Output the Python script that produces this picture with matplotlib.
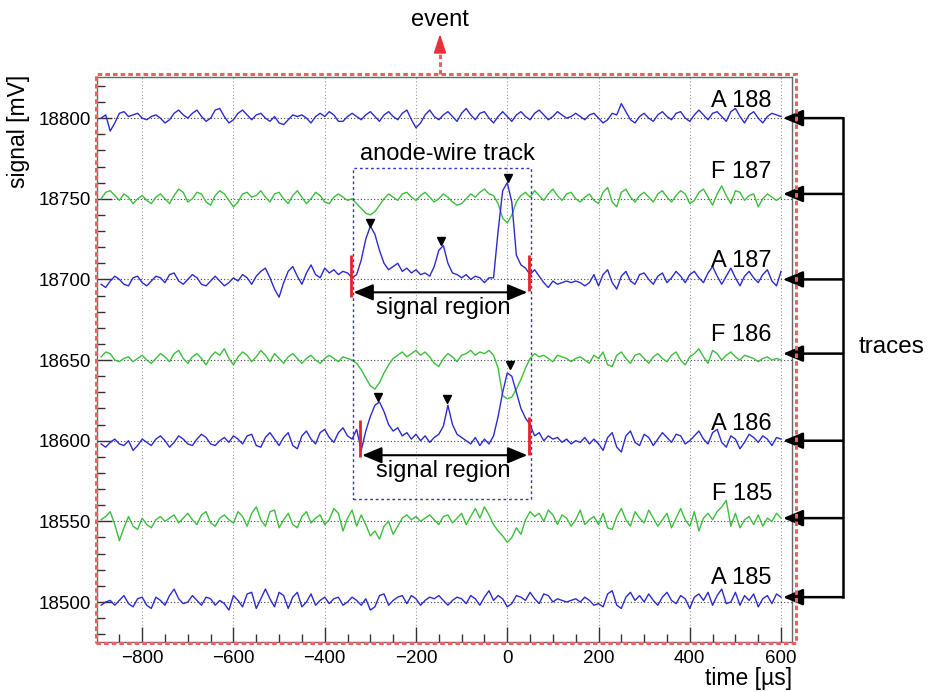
import numpy as np
import matplotlib
matplotlib.use("Agg")
import matplotlib.pyplot as plt
from matplotlib.patches import Rectangle, Polygon
from matplotlib.lines import Line2D

plt.rcParams['font.family'] = ['Liberation Sans', 'DejaVu Sans']

# ---------------- data ----------------
t0 = -890      # first sample time [us]
dt = 10        # sample spacing [us]

trace_names = ["A 188", "F 187", "A 187", "F 186", "A 186", "F 185", "A 185"]
baselines = [18800, 18750, 18700, 18650, 18600, 18550, 18500]
trace_kind = ["A", "F", "A", "F", "A", "F", "A"]

# deviations from baseline [mV]
a188 = [0, 2, -8, -3, 3, 4, 1, 2, 3, 0,
        -1, 1, 2, 0, -3, -1, 3, 5, 2, 0,
        3, 5, 1, -2, 0, 5, 6, 1, -3, -1,
        3, 5, 2, -1, 2, 3, 0, -2, 1, -3,
        -4, -1, 2, 1, 2, 0, -3, 1, 3, 1,
        4, 2, -2, -2, 1, 3, 1, -1, 2, 4,
        1, -2, 2, 4, 1, -1, 3, 5, -1, -6,
        -3, 2, 5, 1, -1, 2, 4, 1, -2, 3,
        6, 2, -1, 3, 4, 0, -3, 1, 4, 1,
        -2, 2, 4, 1, -1, 3, 5, 2, -1, 1,
        4, 2, 0, 1, 3, 1, -1, 2, 3, 0,
        -3, -1, 3, 2, 9, 4, -1, -3, 1, 3,
        0, -2, 2, 4, 1, -1, 3, 4, 0, -2,
        2, 5, 2, -1, 3, 4, 1, -2, 4, 6,
        1, -3, 2, 4, 0, -3, 1, 3, 2, 1]

f187 = [0, 4, 5, 2, -1, 3, 1, -3, 0, 2,
        -1, -3, 1, 3, 0, -3, 2, 6, 4, -2,
        0, 4, 3, -2, -4, 2, 5, 3, -1, -5,
        -2, 3, 4, 1, 2, 5, 1, -2, 3, 4,
        0, -3, 2, 5, 1, -3, 0, 4, 2, -2,
        -3, 1, 3, 1, -1, 0, -3, -6, -9, -10,
        -8, -4, 0, 3, 1, -1, 3, 4, 1, -1,
        2, 4, 1, -2, 0, 3, 1, -2, -4, -3,
        0, 3, 1, 4, 6, 3, 2, -3, -12, -15,
        -10, -2, 2, 4, 1, 5, 2, -1, 3, 6,
        2, -1, 3, 4, 0, -2, 1, 3, -1, -3,
        4, 7, -2, -5, 4, 6, 1, -2, 2, 4,
        1, -2, 3, 5, 1, -2, 2, 5, 3, -3,
        -1, 4, 6, 1, -4, 3, 8, 2, -3, 5,
        4, -1, 2, 3, -5, 0, 3, 1, -1, 1]

a187 = [-3, -5, -1, 2, 0, -3, -4, 1, 2, -2,
        -4, -1, 2, 1, -2, 3, 4, -1, -3, 0,
        3, 1, -3, -4, -1, 2, -1, -4, -2, 1,
        -1, 3, 1, -3, 2, 5, 7, 1, -6, -11,
        -2, 5, 8, 2, -3, 4, 9, 3, 1, 7,
        4, 6, 3, 5, 4, 1, 3, 12, 25, 33,
        28, 18, 10, 6, 8, 10, 5, 7, 4, 6,
        3, 4, 2, 8, 18, 21, 10, 4, 3, 1,
        3, 0, 2, 1, -2, 1, 1, 30, 55, 60,
        48, 15, 9, 7, 3, 6, 2, -2, -5, -1,
        -3, -2, -1, -2, -1, -2, -4, -2, 3, -4,
        3, 6, -2, -6, 2, 5, -1, -3, 3, 4,
        0, -3, 2, 4, -2, 1, 5, 2, -2, 3,
        5, 1, -2, 4, 8, 2, -3, 2, 7, 1,
        -4, 2, 5, 1, -2, 3, 6, -1, -4, 5]

f186 = [2, 5, 4, 0, -1, 1, 2, -1, 1, 3,
        0, -2, 1, 4, 2, -1, 4, 6, 1, -2,
        2, 4, 1, -3, 2, 5, 3, 7, 1, -3,
        2, 5, 3, -1, 2, 6, 3, -1, 4, 1,
        -2, 2, 4, 1, -2, 1, 3, 0, -2, 1,
        3, 1, -1, 2, 1, 0, -2, -6, -11, -16,
        -18, -14, -8, -3, 1, 3, 5, 2, 4, 6,
        3, 5, 2, -2, -4, 1, 4, 2, -1, 3,
        4, 6, 3, 5, 4, 6, 3, -5, -22, -24,
        -23, -18, -12, -5, 1, 4, 2, 3, 1, -1,
        3, 2, 1, -1, 1, 2, 0, -2, 3, 1,
        5, -3, -4, 3, 5, 1, -2, 3, 4, 1,
        -2, 2, 4, 1, -1, 3, 5, 0, -3, 2,
        4, 7, 2, -2, 6, 4, 0, 3, 5, 2,
        0, 3, 2, 1, -1, 1, 2, 0, 1, 0]

a186 = [-2, -4, -1, 1, -2, -3, 0, -6, -3, 1,
        -1, -3, 1, 3, 0, -4, -1, 3, 1, -2,
        -3, 1, 4, 2, -2, -3, 0, 2, -1, 3,
        1, -2, 3, 4, -3, -4, 2, 5, 1, -3,
        2, 5, -3, -5, 3, 6, 1, -2, 5, 7,
        2, -1, 5, 8, 3, 1, 7, -6, 6, 15,
        22, 24, 18, 10, 6, 8, 3, 5, 1, 4,
        0, 3, -1, 2, 4, 9, 22, 10, 4, 2,
        0, -2, 2, -3, 1, -2, 3, 15, 30, 42,
        40, 30, 20, 14, 10, 3, 5, 0, 3, 1,
        2, -1, 1, -2, 0, -1, 2, -2, 1, -2,
        -6, 2, 5, -4, -7, 3, 6, -1, -3, 4,
        2, -3, 1, 5, 2, -1, 4, 3, -2, 0,
        3, 6, 1, -2, 5, 7, -1, -4, 3, 1,
        -5, -1, 4, 2, -1, 3, 1, -3, 2, 1]

f185 = [1, 3, 6, -2, -12, -4, 3, -3, -5, 2,
        -2, -4, 1, 3, 0, 2, 4, -1, 2, 5,
        1, -2, 4, 6, -1, -3, 2, 4, 1, -1,
        6, 3, -3, 5, 9, 1, -3, 6, 7, -4,
        1, 5, -2, -4, 3, 6, -1, 2, 4, -2,
        1, 8, 5, -6, 2, 7, -3, 4, -2, -9,
        -6, -11, -3, 0, -8, -3, 2, 4, 1, 3,
        0, 2, 4, 1, -2, 3, 4, -1, 2, 5,
        -2, 3, 8, 2, 9, 4, -2, -6, -9, -13,
        -10, -4, -8, 1, 6, 3, 5, 0, 7, 4,
        -2, 4, 2, -3, 1, 7, -2, 1, 3, -2,
        5, -4, -5, 3, 8, 1, -3, 6, 2, -1,
        7, 2, -3, 1, 5, -4, 2, 8, 1, -3,
        6, -6, 2, 5, 1, 6, 9, 13, -3, 5,
        -4, 1, 3, -2, 4, -3, 2, 0, 5, 2]

a185 = [-2, 0, 1, -2, 1, 4, -1, -3, 2, 3,
        -2, -4, 3, 1, -2, 4, 8, 2, -1, 0,
        4, 1, -2, 3, 2, -2, 1, -1, -5, 4,
        1, -3, 5, 6, -4, 2, 8, 2, -3, 6,
        4, -4, 3, 6, -3, 0, 5, -2, 1, 3,
        -1, 2, 3, -2, 0, 3, 1, -2, 2, -5,
        -3, 4, 5, -2, 1, 3, 4, -1, 4, 2,
        -2, 1, 3, 2, 4, 1, -2, 1, 3, 2,
        -1, 4, 2, -2, 3, 7, 1, 4, 2, -3,
        -1, 4, 3, 1, 6, 2, -1, 5, 4, 0,
        2, 1, 0, 1, 2, 0, 3, 1, -2, -1,
        -3, 5, 7, -2, -4, 3, 6, 1, 4, 0,
        5, 1, -2, 3, 6, 1, -1, 4, 2, -4,
        3, 5, 1, 6, -2, 4, 8, -1, 0, 6,
        -2, 4, 1, 5, -3, 2, 4, -1, 5, 3]

deviations = [a188, f187, a187, f186, a186, f185, a185]

# peak markers (time, signal)
peak_t = [-300, -145, 2, -283, -132, 6]
peak_v = [18735, 18724, 18763, 18627, 18626, 18647]

# ---------------- figure ----------------
W, H = 930, 692
fig = plt.figure(figsize=(W / 100, H / 100), dpi=100)

def fx(px):
    return px / W

def fy(py):
    return 1 - py / H

ax = fig.add_axes([fx(97), fy(642), (792 - 97) / W, (642 - 77) / H])
ax.set_xlim(-899, 624)
ax.set_ylim(18475.2, 18825.5)

colors = {"A": "#2b2bd0", "F": "#3cbf3c"}
for name, base, kind, dev in zip(trace_names, baselines, trace_kind, deviations):
    dev = np.asarray(dev, dtype=float)
    t = t0 + dt * np.arange(len(dev))
    ax.plot(t, base + dev, color=colors[kind], lw=1.0, zorder=3)

ax.plot(peak_t, peak_v, linestyle='none', marker='v', color='black',
        markersize=6, zorder=5)

# ticks
ax.set_xticks([-800, -600, -400, -200, 0, 200, 400, 600])
ax.set_xticks(np.arange(-850, 624, 50), minor=True)
ax.set_yticks(baselines[::-1])
ax.set_yticks(np.arange(18480, 18825, 10), minor=True)
ax.tick_params(which='both', direction='in', top=False, right=False,
               labelsize=13.5, width=1, color='#333')
ax.tick_params(which='major', length=11)
ax.tick_params(which='minor', length=6)
ax.tick_params(axis='y', pad=4)
ax.tick_params(axis='x', pad=6)

ax.grid(axis='x', which='major', linestyle=(0, (1, 2)), color='#999999', lw=0.8)
ax.grid(axis='y', which='major', linestyle=(0, (1, 2)), color='#444444', lw=0.8)
for sp in ax.spines.values():
    sp.set_color('#666666')
    sp.set_linewidth(1.0)

# axis titles
fig.text(fx(18), fy(131), "signal [mV]", rotation=90, ha='center', va='center',
         fontsize=16.5)
fig.text(fx(792), fy(678), "time [µs]", ha='right', va='center', fontsize=16.5)

# trace labels
label_y = [18807, 18763, 18707.5, 18662, 18606.5, 18563, 18511]
for name, ly in zip(trace_names, label_y):
    ax.text(580, ly, name, ha='right', va='baseline', fontsize=17, zorder=6)

# anode-wire track box
ax.add_patch(Rectangle((-338, 18564), 390, 205, fill=False, ec='#3434c8',
                       ls=(0, (2, 2)), lw=1.0, zorder=4))
ax.text(-132, 18778, "anode-wire track", ha='center', va='center', fontsize=17)

# signal region boundaries
red_marks = [(-342, 18689, 18715), (48, 18693, 18715),
             (-322, 18590, 18613), (48, 18591, 18614.5)]
for xm, y0, y1 in red_marks:
    ax.plot([xm, xm], [y0, y1], color='#e8202a', lw=2, zorder=6,
            solid_capstyle='butt')

regions = [(-337, 44, 18692, 18682), (-318, 44, 18591, 18581.5)]
for xa, xb, ya, yt in regions:
    ax.annotate('', xy=(xa, ya), xytext=(xb, ya),
                arrowprops=dict(arrowstyle='<|-|>,head_length=0.6,head_width=0.25',
                                mutation_scale=20, color='black', lw=1.5,
                                shrinkA=0, shrinkB=0), zorder=6)
    ax.text(-140, yt, "signal region", ha='center', va='center', fontsize=17)

# red dashed event frame
red = '#e46464'
fig.add_artist(Rectangle((fx(96), fy(643)), (796 - 96) / W, (643 - 74) / H,
                         fill=False, ec=red, ls=(0, (1.5, 1.0)), lw=2.2,
                         transform=fig.transFigure, zorder=10))
fig.add_artist(Line2D([fx(440), fx(440)], [fy(74), fy(52)], color=red,
                      ls=(0, (1.5, 1.0)), lw=2.2, transform=fig.transFigure))
fig.add_artist(Polygon([[fx(434.5), fy(53)], [fx(445.5), fy(53)], [fx(440), fy(36)]],
                       closed=True, fc='#e8303a', ec='#e8303a',
                       transform=fig.transFigure))
fig.text(fx(440), fy(20), "event", ha='center', va='center', fontsize=17)

# traces arrows on the right
arrow_y = [18800, 18753, 18700, 18654, 18600, 18552, 18503]
for yv in arrow_y:
    ax.annotate('', xy=(fx(783), yv), xytext=(fx(843), yv),
                xycoords=('figure fraction', 'data'),
                textcoords=('figure fraction', 'data'),
                arrowprops=dict(arrowstyle='-|>,head_length=0.6,head_width=0.25',
                                mutation_scale=20, color='black', lw=1.8,
                                shrinkA=0, shrinkB=0),
                annotation_clip=False, zorder=11)
y_top = ax.transData.transform((0, arrow_y[0]))[1] / fig.dpi / fig.get_figheight()
y_bot = ax.transData.transform((0, arrow_y[-1]))[1] / fig.dpi / fig.get_figheight()
fig.add_artist(Line2D([fx(843), fx(843)], [y_top, y_bot], color='black', lw=1.8,
                      transform=fig.transFigure))
fig.text(fx(859), fy(347), "traces", ha='left', va='center', fontsize=17.5)

fig.savefig("out.png", dpi=100)
